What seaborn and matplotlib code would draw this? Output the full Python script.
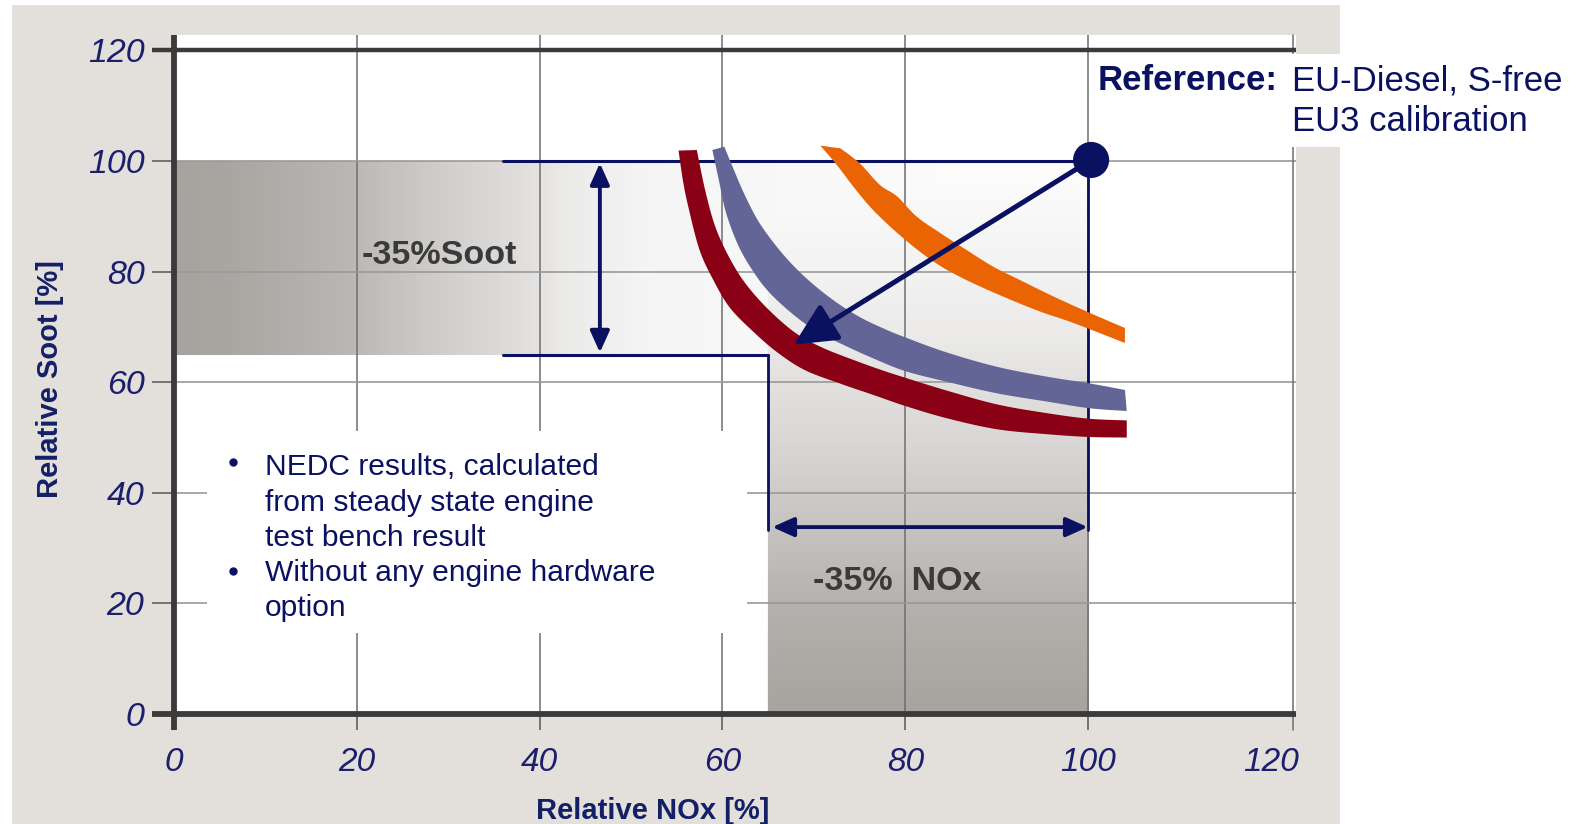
import numpy as np
import matplotlib.pyplot as plt
from matplotlib.colors import LinearSegmentedColormap
from matplotlib.patches import Rectangle
import seaborn as sns

# tick values of both axes
x_ticks = [0, 20, 40, 60, 80, 100, 120]
y_ticks = [0, 20, 40, 60, 80, 100, 120]

# emission trade-off bands, upper/right edge and lower/left edge (% of reference)
red_upper_x = [57.2, 58.1, 59.2, 60.7, 62.5, 65.0, 68.0, 71.0, 74.7, 77.4, 80.0, 84.5, 90.0, 95.5, 100.1, 104.2]
red_upper_y = [102.0, 94.8, 88.2, 82.7, 77.9, 73.2, 68.9, 66.2, 63.8, 62.2, 60.8, 58.5, 56.0, 54.4, 53.4, 53.1]
red_lower_x = [55.2, 55.7, 56.3, 57.5, 59.0, 60.8, 63.4, 66.0, 69.0, 72.8, 76.5, 80.0, 84.5, 90.0, 95.5, 100.1, 104.2]
red_lower_y = [101.9, 96.3, 91.5, 83.9, 78.5, 73.5, 69.1, 65.4, 62.2, 59.8, 57.7, 55.7, 53.5, 51.5, 50.6, 50.1, 50.0]

blue_upper_x = [60.2, 61.2, 62.4, 63.9, 65.8, 67.8, 70.0, 72.5, 75.0, 77.5, 80.0, 84.5, 90.0, 95.5, 100.1, 104.0]
blue_upper_y = [102.6, 98.6, 94.0, 89.2, 84.8, 81.0, 77.6, 74.4, 71.8, 69.8, 68.1, 65.4, 62.8, 61.0, 59.8, 58.6]
blue_lower_x = [58.9, 59.6, 60.4, 61.8, 63.5, 65.2, 67.7, 70.3, 73.3, 76.5, 80.0, 84.5, 90.0, 95.5, 100.1, 104.2]
blue_lower_y = [102.0, 96.6, 90.6, 84.5, 79.7, 76.1, 72.3, 69.2, 66.7, 64.3, 62.0, 60.1, 58.0, 56.5, 55.3, 54.8]

orange_upper_x = [72.9, 75.0, 77.2, 79.1, 81.2, 83.8, 86.7, 89.6, 92.5, 96.2, 99.8, 104.0]
orange_upper_y = [102.3, 99.6, 95.7, 93.6, 90.0, 87.0, 83.9, 80.9, 78.5, 75.5, 72.8, 69.8]
orange_lower_x = [70.7, 72.5, 74.3, 76.1, 78.3, 80.9, 83.1, 84.9, 87.4, 91.1, 94.7, 98.4, 104.0]
orange_lower_y = [102.8, 99.3, 95.4, 91.8, 88.2, 84.5, 81.8, 80.0, 77.9, 75.2, 72.8, 70.7, 67.1]

# reference point and improved point
ref_x, ref_y = 100.3, 100.2
tip_x, tip_y = 67.8, 66.8

# -35 % brackets
soot_hi, soot_lo = 100, 65
nox_hi, nox_lo = 100, 65
bracket_start = 36
soot_arrow_x = 46.6
nox_arrow_y = 33.8

# shading gradients (0 = dark grey, 1 = white)
soot_grad_x = [0, 5, 19.3, 30, 37.5, 43, 52, 65, 80, 100]
soot_grad_t = [0.0, 0.02, 0.22, 0.49, 0.64, 0.78, 0.89, 0.92, 0.95, 0.97]
nox_grad_y = [0, 19.4, 31.6, 40.5, 49.6, 61.6, 67.6, 80, 95, 100]
nox_grad_t = [0.0, 0.15, 0.32, 0.45, 0.57, 0.69, 0.77, 0.86, 0.95, 1.0]

navy = '#0a1160'
label_col = '#1b1f6c'


def smooth(xs, ys, n=16):
    # catmull-rom through the read points, just to draw round edges
    p = np.column_stack([xs, ys]).astype(float)
    p = np.vstack([p[0], p, p[-1]])
    t = np.linspace(0, 1, n, endpoint=False)[:, None]
    out = []
    for i in range(1, len(p) - 2):
        p0, p1, p2, p3 = p[i - 1], p[i], p[i + 1], p[i + 2]
        out.append(0.5 * (2 * p1 + (p2 - p0) * t + (2 * p0 - 5 * p1 + 4 * p2 - p3) * t ** 2
                          + (3 * p1 - p0 - 3 * p2 + p3) * t ** 3))
    out.append(p[-2][None])
    pts = np.vstack(out)
    return pts[:, 0], pts[:, 1]


def band(ax, ux, uy, lx, ly, color):
    sux, suy = smooth(ux, uy)
    slx, sly = smooth(lx, ly)
    ax.fill(np.r_[sux, slx[::-1]], np.r_[suy, sly[::-1]], color=color, lw=0, zorder=3)


sns.set_style('white')
plt.rcParams['font.family'] = ['Liberation Sans', 'DejaVu Sans']

fig = plt.figure(figsize=(15.83, 8.24), dpi=100)
fig.patch.set_facecolor('white')
fig.add_artist(Rectangle((12 / 1583, 0), 1328 / 1583, 819 / 824, transform=fig.transFigure,
                         facecolor='#e3dfdb', edgecolor='none', zorder=-1))

ax = fig.add_axes([173.6 / 1583, 110 / 824, 1122.4 / 1583, 679 / 824])
ax.set_facecolor('white')
for s in ax.spines.values():
    s.set_visible(False)

# grey shading of the two -35 % areas
gx = np.linspace(0, 100, 601)
gy = np.linspace(0, 100, 601)
GX, GY = np.meshgrid(gx, gy)
in_soot = (GY >= soot_lo) & (GY <= soot_hi)
in_nox = (GX >= nox_lo) & (GX <= nox_hi)
t = np.where(in_soot, np.interp(GX, soot_grad_x, soot_grad_t), 1.0)
t = np.where(in_nox, np.minimum(t, np.interp(GY, nox_grad_y, nox_grad_t)), t)
cmap = LinearSegmentedColormap.from_list('shade', ['#a7a39f', '#ffffff'])
rgba = cmap(t)
rgba[~(in_soot | in_nox), 3] = 0
ax.imshow(rgba, extent=[0, 100, 0, 100], origin='lower', aspect='auto',
          interpolation='bilinear', zorder=0.2)

ax.set_xlim(0, 122.7)
ax.set_ylim(0, 122.8)

# grid
for v in x_ticks[1:-1]:
    ax.axvline(v, color='#6e6e6e', lw=1.1, zorder=0.5)
for h in y_ticks[1:-1]:
    ax.axhline(h, color='#9a9a9a', lw=1.2, zorder=0.5)
ax.plot([122.4, 122.4], [-2.9, 122.8], color='#6e6e6e', lw=1.1, clip_on=False, zorder=0.5)

# white box behind the notes
ax.add_patch(Rectangle((3.6, 14.6), 59.1, 36.5, facecolor='white', edgecolor='none', zorder=0.8))

# thick axis lines
axis_col = '#3b3b3b'
ax.plot([-2.4, 122.7], [0, 0], color=axis_col, lw=4.2, clip_on=False, solid_capstyle='butt', zorder=5)
ax.plot([-2.4, 122.7], [120, 120], color=axis_col, lw=3.2, clip_on=False, solid_capstyle='butt', zorder=5)
ax.plot([0, 0], [-2.9, 122.8], color=axis_col, lw=4.2, clip_on=False, solid_capstyle='butt', zorder=5)

# ticks
ax.set_xticks(x_ticks)
ax.set_yticks(y_ticks)
ax.tick_params(axis='x', direction='out', length=11.5, width=1.1, color='#555555', pad=12,
               labelsize=24, labelcolor=label_col, bottom=True)
ax.tick_params(axis='y', direction='out', length=16, width=1.1, color='#555555', pad=5,
               labelsize=24.5, labelcolor=label_col, left=True)
ax.xaxis.get_major_ticks()[-1].tick1line.set_visible(False)
for lab in ax.get_xticklabels() + ax.get_yticklabels():
    lab.set_fontstyle('italic')

# bracket lines
ax.plot([bracket_start, nox_hi], [soot_hi, soot_hi], color=navy, lw=2.2, zorder=2.5)
ax.plot([bracket_start, nox_lo], [soot_lo, soot_lo], color=navy, lw=2.2, zorder=2.5)
ax.plot([nox_lo, nox_lo], [soot_lo, nox_arrow_y - 0.6], color=navy, lw=2.0, zorder=2.5)
ax.plot([nox_hi, nox_hi], [soot_hi, nox_arrow_y - 0.6], color=navy, lw=2.0, zorder=2.5)

ax.annotate('', xy=(soot_arrow_x, soot_lo), xytext=(soot_arrow_x, soot_hi),
            arrowprops=dict(arrowstyle='<|-|>,head_length=1.0,head_width=0.45', mutation_scale=13,
                            lw=2.8, color=navy, shrinkA=1.5, shrinkB=1.5), zorder=4)
ax.annotate('', xy=(nox_lo, nox_arrow_y), xytext=(nox_hi, nox_arrow_y),
            arrowprops=dict(arrowstyle='<|-|>,head_length=1.0,head_width=0.45', mutation_scale=13,
                            lw=2.8, color=navy, shrinkA=0.5, shrinkB=3), zorder=4)

# bands
band(ax, orange_upper_x, orange_upper_y, orange_lower_x, orange_lower_y, '#eb6404')
band(ax, blue_upper_x, blue_upper_y, blue_lower_x, blue_lower_y, '#646597')
band(ax, red_upper_x, red_upper_y, red_lower_x, red_lower_y, '#8a0014')

# reference point and arrow
ax.annotate('', xy=(tip_x, tip_y), xytext=(ref_x, ref_y),
            arrowprops=dict(arrowstyle='-|>,head_length=1.3,head_width=0.63', mutation_scale=20,
                            lw=3.6, color=navy, shrinkA=0, shrinkB=0), zorder=6)
sns.scatterplot(x=[ref_x], y=[ref_y], s=26 ** 2, color=navy, edgecolor='none',
                ax=ax, legend=False, zorder=7)

# texts
ax.text(29.1, 83.0, '-35%Soot', ha='center', va='center', fontsize=24.5, fontweight='bold',
        color='#3a3a3a', zorder=4)
ax.text(79.1, 24.0, '-35%  NOx', ha='center', va='center', fontsize=24.5, fontweight='bold',
        color='#3a3a3a', zorder=4)

notes = ('NEDC results, calculated\nfrom steady state engine\ntest bench result\n'
         'Without any engine hardware\noption')
ax.text(9.94, 31.85, notes, ha='left', va='center', fontsize=21.6, color=navy,
        linespacing=1.33, zorder=4)
ax.plot([6.5, 6.5], [45.5, 25.8], 'o', ms=5, color=navy, zorder=4)

ax.text(101.0, 114.55, 'Reference:', ha='left', va='center', fontsize=25, fontweight='bold',
        color=navy, clip_on=False, zorder=8)
ax.text(122.3, 110.9, 'EU-Diesel, S-free\nEU3 calibration', ha='left', va='center',
        fontsize=25, color=navy, linespacing=1.29, clip_on=False, zorder=8,
        bbox=dict(facecolor='white', edgecolor='none', pad=7))

fig.text(653 / 1583, 1 - 811 / 824, 'Relative NOx [%]', ha='center', va='center',
         fontsize=21, fontweight='bold', color='#142066')
fig.text(49.5 / 1583, 1 - 379 / 824, 'Relative Soot [%]', ha='center', va='center',
         rotation=90, fontsize=21, fontweight='bold', color='#142066')

fig.savefig('out.png', dpi=100)
